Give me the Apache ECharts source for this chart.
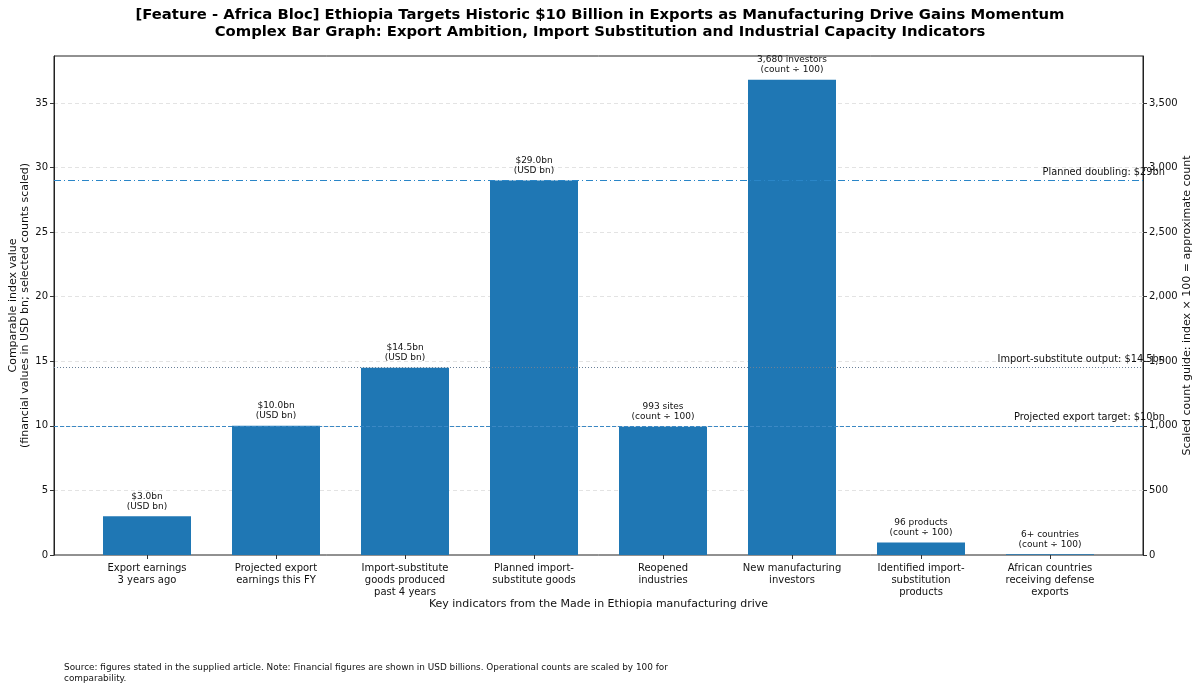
<!DOCTYPE html>
<html lang="en">
<head>
    <meta charset="UTF-8">
    <title>Ethiopia Export Ambition</title>
    <script src="https://cdn.jsdelivr.net/npm/echarts@6/dist/echarts.min.js"></script>
    <style>
        html, body { margin: 0; padding: 0; background: #fff; }
    </style>
</head>
<body>
    <div id="main" style="width: 1200px;height:690px;"></div>
    <script>
        // categories and values
        const categories = [
            'Export earnings\n3 years ago',
            'Projected export\nearnings this FY',
            'Import-substitute\ngoods produced\npast 4 years',
            'Planned import-\nsubstitute goods',
            'Reopened\nindustries',
            'New manufacturing\ninvestors',
            'Identified import-\nsubstitution\nproducts',
            'African countries\nreceiving defense\nexports'
        ];
        const indexValues = [3.0, 10.0, 14.5, 29.0, 9.93, 36.8, 0.96, 0.06];
        const barLabels = [
            '$3.0bn\n(USD bn)',
            '$10.0bn\n(USD bn)',
            '$14.5bn\n(USD bn)',
            '$29.0bn\n(USD bn)',
            '993 sites\n(count ÷ 100)',
            '3,680 investors\n(count ÷ 100)',
            '96 products\n(count ÷ 100)',
            '6+ countries\n(count ÷ 100)'
        ];
        const refValues = [29, 14.5, 10];
        const refLabels = ['Planned doubling: $29bn', 'Import-substitute output: $14.5bn', 'Projected export target: $10bn'];
        const leftMax = 38.64;
        const countScale = 100;

        const FONT = 'DejaVu Sans';
        const refStyles = [
            { color: '#2a86c8', type: [7, 3, 1, 3], width: 1 },
            { color: '#6a8098', type: [1, 2], width: 1 },
            { color: '#3b88c4', type: [4, 2], width: 1 }
        ];

        var chart = echarts.init(document.getElementById('main'));
        var option = {
            animation: false,
            textStyle: { fontFamily: FONT },
            title: {
                text: '[Feature - Africa Bloc] Ethiopia Targets Historic $10 Billion in Exports as Manufacturing Drive Gains Momentum\nComplex Bar Graph: Export Ambition, Import Substitution and Industrial Capacity Indicators',
                left: 'center',
                top: 2,
                textStyle: { fontFamily: FONT, fontSize: 14.8, fontWeight: 'bold', color: '#000', lineHeight: 17, align: 'center' }
            },
            grid: [
                { left: 54, right: 57, top: 56, bottom: 135, show: true, borderColor: '#222', borderWidth: 1, backgroundColor: 'transparent', outerBoundsMode: 'none', containLabel: false },
                { left: 82.5, right: 85.5, top: 56, bottom: 135, outerBoundsMode: 'none', containLabel: false }
            ],
            xAxis: [
                { type: 'value', gridIndex: 0, min: 0, max: 1, show: false },
                {
                    type: 'category', gridIndex: 1, data: categories,
                    axisLine: { show: false },
                    axisTick: { show: true, alignWithLabel: true, length: 4, lineStyle: { color: '#333' } },
                    axisLabel: { interval: 0, fontSize: 10, lineHeight: 12, color: '#111', margin: 7, fontFamily: FONT },
                    name: 'Key indicators from the Made in Ethiopia manufacturing drive',
                    nameLocation: 'middle', nameGap: 44, nameMoveOverlap: false,
                    nameTextStyle: { fontSize: 11, color: '#111', fontFamily: FONT }
                }
            ],
            yAxis: [
                {
                    type: 'value', gridIndex: 0, min: 0, max: leftMax, interval: 5, position: 'left',
                    axisLine: { show: true, lineStyle: { color: '#222' } },
                    axisTick: { show: true, length: 4, lineStyle: { color: '#333' } },
                    axisLabel: { fontSize: 10, color: '#111', margin: 6, fontFamily: FONT, showMaxLabel: false },
                    splitLine: { show: true, showMinLine: false, showMaxLine: false, lineStyle: { color: '#e3e3e3', type: [4, 3] } },
                    name: 'Comparable index value\n(financial values in USD bn; selected counts scaled)',
                    nameLocation: 'middle', nameGap: 23, nameRotate: 90, nameMoveOverlap: false,
                    nameTextStyle: { fontSize: 11, color: '#111', lineHeight: 12, fontFamily: FONT }
                },
                {
                    type: 'value', gridIndex: 0, min: 0, max: leftMax * countScale, interval: 500, position: 'right',
                    axisLine: { show: true, lineStyle: { color: '#222' } },
                    axisTick: { show: true, length: 4, lineStyle: { color: '#333' } },
                    axisLabel: {
                        fontSize: 10, color: '#111', margin: 6, fontFamily: FONT, showMaxLabel: false,
                        formatter: v => v.toLocaleString('en-US')
                    },
                    splitLine: { show: false },
                    name: 'Scaled count guide: index × 100 = approximate count',
                    nameLocation: 'middle', nameGap: 39, nameRotate: 90, nameMoveOverlap: false,
                    nameTextStyle: { fontSize: 11, color: '#111', fontFamily: FONT }
                },
                { type: 'value', gridIndex: 1, min: 0, max: leftMax, show: false }
            ],
            series: [
                {
                    type: 'bar',
                    xAxisIndex: 1, yAxisIndex: 2,
                    barWidth: 88,
                    itemStyle: { color: '#1f77b4' },
                    data: indexValues,
                    label: {
                        show: true, position: 'top', distance: 5,
                        fontSize: 9, lineHeight: 10, color: '#111', fontFamily: FONT,
                        formatter: p => barLabels[p.dataIndex]
                    },
                    z: 3
                },
                {
                    type: 'line',
                    xAxisIndex: 0, yAxisIndex: 0,
                    data: [],
                    z: 5,
                    markLine: {
                        silent: true,
                        symbol: 'none',
                        data: refValues.map((v, i) => ({
                            yAxis: v,
                            lineStyle: refStyles[i],
                            label: {
                                show: true, position: 'insideEndTop', formatter: refLabels[i],
                                fontSize: 9.8, color: '#111', fontFamily: FONT, distance: 3, offset: [25, 0]
                            }
                        }))
                    }
                }
            ],
            graphic: [
                {
                    type: 'text', left: 64, top: 662,
                    style: {
                        text: 'Source: figures stated in the supplied article. Note: Financial figures are shown in USD billions. Operational counts are scaled by 100 for\ncomparability.',
                        fontSize: 8.9, lineHeight: 11, fill: '#111', fontFamily: FONT
                    }
                }
            ]
        };

        chart.setOption(option);
    </script>
</body>
</html>
